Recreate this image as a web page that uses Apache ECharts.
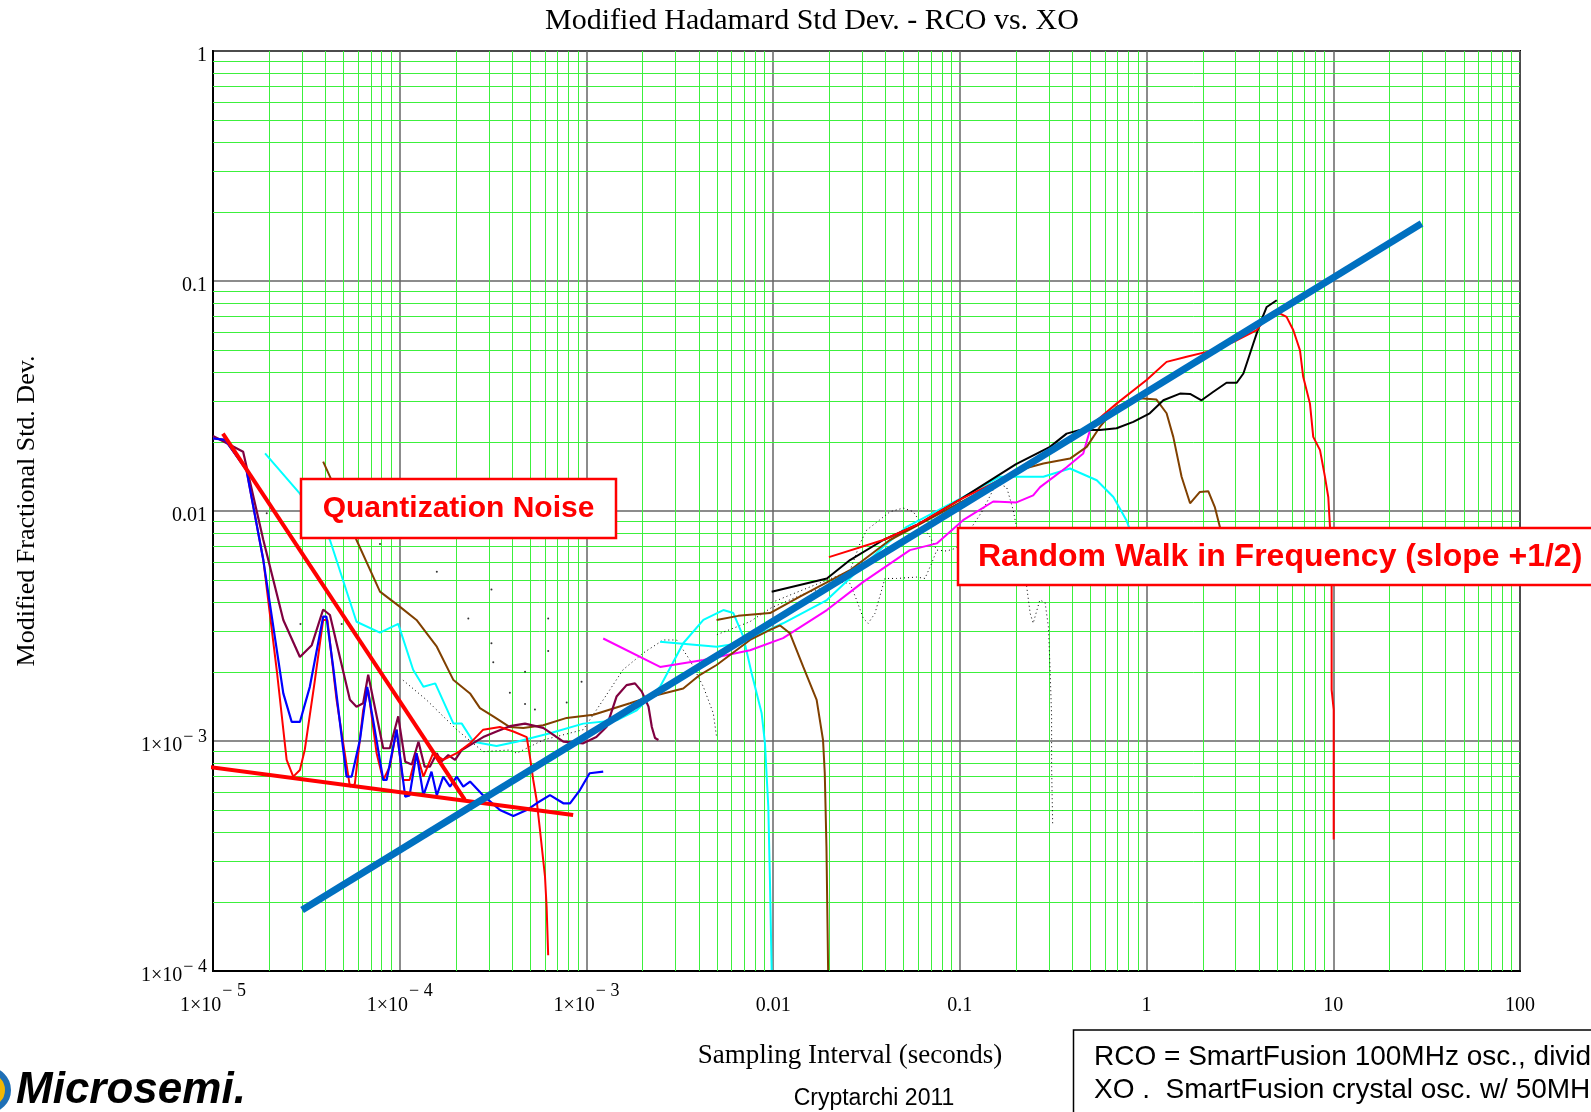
<!DOCTYPE html>
<html><head><meta charset="utf-8">
<script src="https://cdn.jsdelivr.net/npm/echarts@6/dist/echarts.min.js"></script>
<style>html,body{margin:0;padding:0;background:#fff}#c{width:1591px;height:1112px}</style>
</head><body><div id="c"></div>
<script>
// ---- tick labels ----
const xTickBase = ['1\u00d710','1\u00d710','1\u00d710','0.01','0.1','1','10','100'];
const xTickSup  = ['\u2212 5','\u2212 4','\u2212 3','','','','',''];
const yTickBase = ['1\u00d710','1\u00d710','0.01','0.1','1'];
const yTickSup  = ['\u2212 4','\u2212 3','','',''];
const minorMult = [2,3,4,5,6,7,8,9];
const xDecades = [-5,-4,-3,-2,-1,0,1];
const yDecades = [-4,-3,-2,-1];

// ---- series data: [tau (s), modified fractional std dev] ----
const blueData = [[1e-5,0.0207],[1.16e-5,0.0204],[1.51e-5,0.0151],[1.86e-5,6.12e-3],[2.38e-5,1.61e-3],[2.64e-5,1.21e-3],[2.92e-5,1.21e-3],[3.30e-5,1.72e-3],[3.89e-5,3.47e-3],[4.05e-5,3.47e-3],[4.40e-5,2.10e-3],[5.19e-5,7.0e-4],[5.53e-5,7.0e-4],[6.12e-5,1.01e-3],[6.70e-5,1.72e-3],[7.21e-5,1.23e-3],[8.16e-5,6.77e-4],[8.51e-5,6.77e-4],[9.62e-5,1.12e-3],[1.07e-4,5.73e-4],[1.13e-4,5.8e-4],[1.23e-4,8.85e-4],[1.34e-4,5.8e-4],[1.48e-4,7.36e-4],[1.58e-4,5.8e-4],[1.71e-4,7.0e-4],[1.86e-4,6.33e-4],[2.02e-4,7.0e-4],[2.19e-4,6.33e-4],[2.38e-4,6.66e-4],[2.80e-4,5.8e-4],[3.44e-4,5.01e-4],[4.06e-4,4.72e-4],[4.79e-4,5.01e-4],[5.41e-4,5.36e-4],[6.38e-4,5.82e-4],[7.52e-4,5.36e-4],[8.17e-4,5.36e-4],[9.23e-4,6.12e-4],[1.04e-3,7.24e-4],[1.23e-3,7.36e-4]];
const redLeftData = [[1e-5,0.0207],[1.16e-5,0.0204],[1.51e-5,0.0151],[1.86e-5,6.12e-3],[2.2e-5,2.0e-3],[2.48e-5,8.28e-4],[2.69e-5,7.0e-4],[2.92e-5,7.48e-4],[3.10e-5,9.14e-4],[3.5e-5,1.8e-3],[3.89e-5,3.36e-3],[4.1e-5,3.36e-3],[4.59e-5,1.51e-3],[5.41e-5,6.33e-4],[5.75e-5,6.49e-4],[6.37e-5,1.36e-3],[6.78e-5,1.67e-3],[7.52e-5,8.85e-4],[8.16e-5,6.77e-4],[8.85e-5,7.73e-4],[9.62e-5,1.12e-3],[1.04e-4,6.77e-4],[1.13e-4,6.77e-4],[1.23e-4,8.85e-4],[1.34e-4,7.0e-4],[1.51e-4,8.85e-4],[1.71e-4,8.28e-4],[2.02e-4,8.85e-4],[2.38e-4,9.77e-4],[2.80e-4,1.12e-3],[3.44e-4,1.15e-3],[4.06e-4,1.10e-3],[4.79e-4,1.04e-3],[4.98e-4,8.55e-4],[5.19e-4,6.77e-4],[5.41e-4,5.54e-4],[5.64e-4,4.10e-4],[6.0e-4,2.57e-4],[6.12e-4,1.90e-4],[6.24e-4,1.17e-4]];
const purpleData = [[1e-5,0.0212],[1.45e-5,0.0181],[1.86e-5,7.48e-3],[2.38e-5,3.36e-3],[2.92e-5,2.32e-3],[3.38e-5,2.61e-3],[3.89e-5,3.73e-3],[4.23e-5,3.53e-3],[5.41e-5,1.51e-3],[5.87e-5,1.41e-3],[6.37e-5,1.46e-3],[6.78e-5,1.94e-3],[8.16e-5,9.3e-4],[8.85e-5,9.3e-4],[9.82e-5,1.28e-3],[1.07e-4,8.13e-4],[1.16e-4,7.9e-4],[1.26e-4,9.93e-4],[1.36e-4,7.73e-4],[1.45e-4,7.73e-4],[1.58e-4,8.85e-4],[1.67e-4,8.13e-4],[1.82e-4,8.69e-4],[1.98e-4,8.28e-4],[2.15e-4,9.14e-4],[2.80e-4,1.04e-3],[3.30e-4,1.10e-3],[3.89e-4,1.16e-3],[4.69e-4,1.19e-3],[5.87e-4,1.14e-3],[7.52e-4,9.93e-4],[9.61e-4,9.77e-4],[1.13e-3,1.04e-3],[1.28e-3,1.15e-3],[1.45e-3,1.56e-3],[1.64e-3,1.75e-3],[1.82e-3,1.78e-3],[1.98e-3,1.64e-3],[2.15e-3,1.41e-3],[2.24e-3,1.15e-3],[2.33e-3,1.03e-3],[2.43e-3,1.01e-3]];
const cyanLeftData = [[1.90e-5,0.0178],[2.92e-5,0.0119],[4.23e-5,7.48e-3],[5.87e-5,3.30e-3],[7.84e-5,2.96e-3],[9.82e-5,3.23e-3],[1.18e-4,2.04e-3],[1.34e-4,1.72e-3],[1.55e-4,1.78e-3],[1.94e-4,1.19e-3],[2.15e-4,1.19e-3],[2.48e-4,9.93e-4],[3.30e-4,9.51e-4],[4.23e-4,9.93e-4],[6.38e-4,1.08e-3],[9.61e-4,1.19e-3],[1.45e-3,1.23e-3],[1.86e-3,1.36e-3],[2.48e-3,1.72e-3],[3.30e-3,2.66e-3],[4.23e-3,3.36e-3],[5.41e-3,3.71e-3],[6.12e-3,3.6e-3],[6.92e-3,2.84e-3],[7.67e-3,1.97e-3],[8.68e-3,1.32e-3],[9.04e-3,9.77e-4],[9.42e-3,5.18e-4],[9.62e-3,2.41e-4],[9.82e-3,1.01e-4]];
const cyanRightData = [[2.48e-3,2.70e-3],[4.98e-3,2.57e-3],[6.61e-3,2.66e-3],[0.0113,3.25e-3],[0.0194,4.10e-3],[0.0389,6.99e-3],[0.0519,8.53e-3],[0.1,0.0113],[0.164,0.0141],[0.28,0.0141],[0.389,0.0153],[0.541,0.0136],[0.664,0.0115],[0.78,9.12e-3],[0.85,7.5e-3]];
const brownLowData = [[3.89e-5,0.0164],[4.23e-5,0.0141],[5.87e-5,7.48e-3],[7.84e-5,4.46e-3],[1.0e-4,3.84e-3],[1.23e-4,3.36e-3],[1.58e-4,2.57e-3],[1.94e-4,1.84e-3],[2.38e-4,1.61e-3],[2.69e-4,1.39e-3],[3.17e-4,1.28e-3],[3.89e-4,1.15e-3],[4.59e-4,1.14e-3],[5.87e-4,1.17e-3],[7.84e-4,1.26e-3],[1.09e-3,1.30e-3],[1.71e-3,1.46e-3],[2.15e-3,1.55e-3],[3.30e-3,1.69e-3],[4.06e-3,1.94e-3],[4.98e-3,2.14e-3],[7.52e-3,2.75e-3],[9.62e-3,3.04e-3],[0.0109,3.18e-3],[0.0123,2.94e-3],[0.0145,2.10e-3],[0.0171,1.51e-3],[0.0185,1.01e-3],[0.0189,7.24e-4],[0.0193,3.47e-4],[0.0197,1.01e-4]];
const brownHighData = [[4.98e-3,3.36e-3],[6.5e-3,3.5e-3],[9.62e-3,3.6e-3],[0.0139,4.24e-3],[0.0258,5.53e-3],[0.0422,7.48e-3],[0.0752,9.6e-3],[0.133,0.0123],[0.21,0.0151],[0.28,0.0161],[0.389,0.0169],[0.478,0.0190],[0.562,0.0232],[0.691,0.0284],[0.922,0.0309],[1.13,0.0305],[1.28,0.0266],[1.39,0.0210],[1.54,0.0141],[1.71,0.0108],[1.93,0.0121],[2.14,0.0122],[2.32,0.0104],[2.47,8.53e-3],[2.6,6.5e-3]];
const blackData = [[9.82e-3,4.46e-3],[0.0194,5.09e-3],[0.0258,6.12e-3],[0.0389,7.48e-3],[0.0587,8.69e-3],[0.1,0.0112],[0.2,0.0160],[0.304,0.0190],[0.373,0.0217],[0.44,0.0225],[0.562,0.0225],[0.691,0.0229],[0.849,0.0244],[1.04,0.0266],[1.23,0.0303],[1.51,0.0324],[1.71,0.0323],[1.97,0.0303],[2.28,0.0330],[2.68,0.0361],[3.04,0.0361],[3.30,0.0396],[3.73,0.0535],[4.05,0.0653],[4.40,0.0771],[4.98,0.0825]];
const redHighData = [[0.0199,6.3e-3],[0.0389,7.48e-3],[0.0587,8.69e-3],[0.1,0.0112],[0.2,0.0148],[0.3,0.0180],[0.4,0.0212],[0.518,0.0240],[0.691,0.0293],[1.0,0.0371],[1.28,0.0445],[1.64,0.0468],[2.10,0.0492],[2.91,0.0543],[3.89,0.0611],[4.40,0.0698],[5.19,0.0722],[5.62,0.0698],[6.11,0.0611],[6.63,0.0500],[6.9,0.0383],[7.5,0.0293],[7.81,0.0210],[8.49,0.0184],[9.02,0.0141],[9.4,0.0115],[9.6,8.53e-3],[9.8,4.68e-3],[9.8,1.67e-3],[10.05,1.37e-3],[10.05,3.73e-4]];
const magentaData = [[1.23e-3,2.79e-3],[2.48e-3,2.10e-3],[4.23e-3,2.25e-3],[7.52e-3,2.48e-3],[0.0113,2.80e-3],[0.0194,3.71e-3],[0.0304,4.92e-3],[0.054,6.76e-3],[0.0752,7.23e-3],[0.104,9.12e-3],[0.151,0.011],[0.201,0.0109],[0.247,0.0117],[0.269,0.0127],[0.373,0.0155],[0.458,0.0178],[0.498,0.0225],[0.541,0.024]];
const dottedLeftData = [[1.04e-4,1.84e-3],[1.39e-4,1.51e-3],[2.02e-4,1.12e-3],[2.80e-4,8.99e-4],[3.89e-4,9.14e-4],[4.23e-4,8.85e-4],[5.87e-4,1.01e-3],[9.61e-4,1.12e-3],[1.23e-3,1.51e-3],[1.57e-3,2.04e-3],[2.01e-3,2.41e-3],[2.58e-3,2.75e-3],[3.04e-3,2.75e-3],[3.58e-3,2.25e-3],[4.23e-3,1.72e-3],[4.78e-3,1.32e-3],[4.98e-3,1.04e-3]];
const dottedRightAData = [[9.82e-3,4.0e-3],[0.015,4.6e-3],[0.0258,5.5e-3],[0.0292,7.23e-3],[0.0317,8.26e-3],[0.0423,9.93e-3],[0.0498,0.0103],[0.0563,9.93e-3],[0.0637,8.53e-3],[0.0691,7.73e-3],[0.0752,6.76e-3],[0.0849,6.7e-3],[0.096,6.9e-3],[0.113,8.26e-3],[0.133,0.0101],[0.157,0.0132],[0.178,0.0127],[0.193,0.0101],[0.201,8.53e-3],[0.228,4.69e-3],[0.238,3.59e-3],[0.247,3.25e-3],[0.268,4.10e-3],[0.286,4.0e-3],[0.298,3.14e-3],[0.304,2.10e-3],[0.31,1.28e-3],[0.31,7.73e-4],[0.314,4.39e-4]];
const dottedRightBData = [[5e-3,2.9e-3],[7.5e-3,3.3e-3],[9.8e-3,3.8e-3],[0.015,4.4e-3],[0.0232,4.9e-3],[0.0258,4.84e-3],[0.028,4.1e-3],[0.0304,3.41e-3],[0.0323,3.25e-3],[0.0351,3.59e-3],[0.0381,4.53e-3],[0.0397,5.09e-3],[0.0458,5.09e-3],[0.0587,5.16e-3],[0.065,5.09e-3],[0.0706,5.92e-3],[0.0752,6.76e-3]];
const sparseDots = [[1.94e-5,9.77e-3],[2.94e-5,3.23e-3],[4.89e-5,3.23e-3],[7.84e-5,7.18e-3],[1.58e-4,5.44e-3],[2.33e-4,3.41e-3],[3.1e-4,4.56e-3],[3.1e-4,2.66e-3],[3.17e-4,2.2e-3],[3.89e-4,1.62e-3],[4.69e-4,2.0e-3],[4.69e-4,1.45e-3],[5.3e-4,1.37e-3],[6.24e-4,3.41e-3],[6.24e-4,2.46e-3],[7.84e-4,1.47e-3],[9.42e-4,1.81e-3]];
// fitted guide lines
const quantNoiseLine = [[1.13e-5,0.0217],[2.23e-4,5.56e-4]];
const floorLine = [[9.24e-6,7.73e-4],[8.49e-4,4.77e-4]];
const randomWalkLine = [[3.0e-5,1.84e-4],[29.7,0.178]];

// ---- chart ----
const serif = 'Liberation Serif';
const gridLines = [];
xDecades.forEach(d => minorMult.forEach(m => { const v = m * Math.pow(10, d); gridLines.push({coords: [[v, 1e-4], [v, 1]]}); }));
yDecades.forEach(d => minorMult.forEach(m => { const v = m * Math.pow(10, d); gridLines.push({coords: [[1e-5, v], [100, v]]}); }));

function fmt(base, sup, first) {
  return function (v) {
    const i = Math.round(Math.log10(v)) - first;
    if (i < 0 || i >= base.length) return '';
    return sup[i] ? '{b|' + base[i] + '}{s|' + sup[i] + '}' : '{b|' + base[i] + '}';
  };
}
const richX = {
  b: {fontFamily: serif, fontSize: 20, lineHeight: 40, verticalAlign: 'bottom', color: '#000'},
  s: {fontFamily: serif, fontSize: 18, lineHeight: 12, verticalAlign: 'top', color: '#000', padding: [6, 0, 0, 1]}
};
const richY = {
  b: {fontFamily: serif, fontSize: 20, lineHeight: 30, verticalAlign: 'bottom', color: '#000', padding: [6, 0, 0, 0]},
  s: {fontFamily: serif, fontSize: 18, lineHeight: 12, verticalAlign: 'top', color: '#000', padding: [2, 0, 0, 1]}
};
function line(data, color, width, z, extra) {
  return Object.assign({type: 'line', data: data, showSymbol: false, symbol: 'none', z: z, silent: true,
    lineStyle: {color: color, width: width}, itemStyle: {color: color}}, extra || {});
}

const chart = echarts.init(document.getElementById('c'));
chart.setOption({
  animation: false,
  backgroundColor: '#fff',
  grid: {left: 213, right: 71, top: 51, bottom: 141, show: true, borderColor: '#000', borderWidth: 2},
  xAxis: {type: 'log', logBase: 10, min: 1e-5, max: 100,
    axisLine: {show: true, lineStyle: {color: '#000', width: 2}}, axisTick: {show: false},
    axisLabel: {formatter: fmt(xTickBase, xTickSup, -5), rich: richX, margin: 5, showMinLabel: true, showMaxLabel: true},
    splitLine: {show: true, lineStyle: {color: '#666', width: 1.5}}},
  yAxis: {type: 'log', logBase: 10, min: 1e-4, max: 1,
    axisLine: {show: true, lineStyle: {color: '#000', width: 2}}, axisTick: {show: false},
    axisLabel: {formatter: fmt(yTickBase, yTickSup, -4), rich: richY, margin: 6, showMinLabel: true, showMaxLabel: true},
    splitLine: {show: true, lineStyle: {color: '#666', width: 1.5}}},
  series: [
    {type: 'lines', coordinateSystem: 'cartesian2d', data: gridLines, silent: true, z: 1, polyline: false,
      lineStyle: {color: '#3cf03c', width: 1, opacity: 1}},
    {type: 'scatter', data: sparseDots, symbolSize: 2, itemStyle: {color: '#000'}, z: 3, silent: true},
    line(dottedLeftData, '#000', 1, 3, {lineStyle: {color: '#000', width: 1, type: [1, 3]}}),
    line(dottedRightAData, '#000', 1, 3, {lineStyle: {color: '#000', width: 1, type: [1, 3]}}),
    line(dottedRightBData, '#000', 1, 3, {lineStyle: {color: '#000', width: 1, type: [1, 3]}}),
    line(cyanLeftData, '#00ffff', 2, 4),
    line(cyanRightData, '#00ffff', 2, 4),
    line(magentaData, '#ff00ff', 2, 4),
    line(brownLowData, '#804000', 2, 4),
    line(brownHighData, '#804000', 2, 4),
    line(blackData, '#000000', 2, 4),
    line(purpleData, '#800040', 2.2, 5),
    line(redLeftData, '#ff0000', 2, 5),
    line(redHighData, '#ff0000', 2, 5),
    line(blueData, '#0000ff', 2.2, 6),
    line(quantNoiseLine, '#ff0000', 4, 8, {clip: false}),
    line(floorLine, '#ff0000', 4, 8, {clip: false}),
    line(randomWalkLine, '#0070c0', 7, 9, {clip: false})
  ],
  graphic: [
    {type: 'text', z: 100, x: 812, y: 21, style: {text: 'Modified Hadamard Std Dev. - RCO vs. XO', font: '30px "Liberation Serif"', fill: '#000', textAlign: 'center', textVerticalAlign: 'middle'}},
    {type: 'text', z: 100, x: 27, y: 511, rotation: Math.PI / 2, style: {text: 'Modified Fractional Std. Dev.', font: '26px "Liberation Serif"', fill: '#000', textAlign: 'center', textVerticalAlign: 'middle'}},
    {type: 'text', z: 100, x: 850, y: 1056, style: {text: 'Sampling Interval (seconds)', font: '27px "Liberation Serif"', fill: '#000', textAlign: 'center', textVerticalAlign: 'middle'}},
    {type: 'text', z: 100, x: 874, y: 1099, style: {text: 'Cryptarchi 2011', font: '23px "Liberation Sans"', fill: '#000', textAlign: 'center', textVerticalAlign: 'middle'}},
    {type: 'rect', z: 100, shape: {x: 301, y: 479, width: 315, height: 59}, style: {fill: '#fff', stroke: '#ff0000', lineWidth: 2.5}},
    {type: 'text', z: 101, x: 458.5, y: 509, style: {text: 'Quantization Noise', font: 'bold 30px "Liberation Sans"', fill: '#ff0000', textAlign: 'center', textVerticalAlign: 'middle'}},
    {type: 'rect', z: 100, shape: {x: 958, y: 528, width: 650, height: 57}, style: {fill: '#fff', stroke: '#ff0000', lineWidth: 2.5}},
    {type: 'text', z: 101, x: 978, y: 557, style: {text: 'Random Walk in Frequency (slope +1/2)', font: 'bold 32px "Liberation Sans"', fill: '#ff0000', textAlign: 'left', textVerticalAlign: 'middle'}},
    {type: 'rect', z: 100, shape: {x: 1073.5, y: 1030, width: 560, height: 120}, style: {fill: '#fff', stroke: '#000', lineWidth: 1.5}},
    {type: 'text', z: 101, x: 1094, y: 1057, style: {text: 'RCO = SmartFusion 100MHz osc., divided', font: '28px "Liberation Sans"', fill: '#000', textAlign: 'left', textVerticalAlign: 'middle'}},
    {type: 'text', z: 101, x: 1094, y: 1090, style: {text: 'XO .  SmartFusion crystal osc. w/ 50MHz', font: '28px "Liberation Sans"', fill: '#000', textAlign: 'left', textVerticalAlign: 'middle'}},
    {type: 'circle', z: 100, shape: {cx: -12, cy: 1090, r: 20}, style: {fill: '#f2b705', stroke: '#1f6fb5', lineWidth: 6}},
    {type: 'text', z: 101, x: 16, y: 1091, style: {text: 'Microsemi.', font: 'italic bold 44px "Liberation Sans"', fill: '#000', textAlign: 'left', textVerticalAlign: 'middle'}}
  ]
});
</script></body></html>
